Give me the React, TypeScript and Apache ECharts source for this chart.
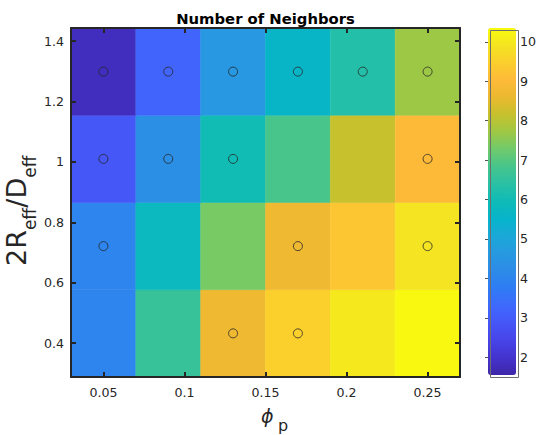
import React, { useEffect, useRef } from "react";
import * as echarts from "echarts";

// ---- data ----
const xCenters = [0.05, 0.09, 0.13, 0.17, 0.21, 0.25];
const yCenters = [0.432, 0.721, 1.01, 1.299];
// values per row, bottom row first
const row043 = [4.0, 6.6, 8.7, 9.5, 10.0, 10.3];
const row072 = [4.0, 5.8, 7.35, 8.7, 9.3, 9.9];
const row101 = [2.9, 4.3, 6.0, 6.85, 8.15, 9.0];
const row130 = [1.8, 3.2, 4.6, 5.6, 6.3, 7.7];
const rows = [row043, row072, row101, row130];
// marked cells: [x, y]
const markers: number[][] = [
  [0.05, 1.299], [0.09, 1.299], [0.13, 1.299], [0.17, 1.299], [0.21, 1.299], [0.25, 1.299],
  [0.05, 1.01], [0.09, 1.01], [0.13, 1.01], [0.25, 1.01],
  [0.05, 0.721], [0.17, 0.721], [0.25, 0.721],
  [0.13, 0.432], [0.17, 0.432],
];
const xTicks = [0.05, 0.1, 0.15, 0.2, 0.25];
const yTicks = [0.4, 0.6, 0.8, 1, 1.2, 1.4];
const cbTicks = [2, 3, 4, 5, 6, 7, 8, 9, 10];
const cbMin = 1.55;
const cbMax = 10.35;

const cellW = 0.04;
const cellH = 0.289;

const parula = [
  "#3e26a8", "#4433ce", "#4744e8", "#4656f7", "#3e69fd", "#2f7cf4", "#2d8be8",
  "#2799e0", "#1ba8d8", "#06b4cb", "#0ebbb7", "#2ac0a5", "#46c58c", "#6fca6c",
  "#9ec845", "#c6c12d", "#eab92f", "#feba3a", "#fbce2d", "#f4e421", "#f9fb0e",
];

const FONT = "DejaVu Sans";
const TXT = "#262626";

export default function App() {
  const ref = useRef<HTMLDivElement>(null);
  useEffect(() => {
    if (!ref.current) return;
    const chart = echarts.init(ref.current, undefined, { renderer: "svg" });
    const cells: number[][] = [];
    rows.forEach((r, j) => r.forEach((v, i) => cells.push([xCenters[i], yCenters[j], v])));

    const xMin = xCenters[0] - cellW / 2;
    const xMax = xCenters[xCenters.length - 1] + cellW / 2;
    const yMin = yCenters[0] - cellH / 2;
    const yMax = yCenters[yCenters.length - 1] + cellH / 2;

    const axisLine = { show: true, onZero: false, lineStyle: { color: TXT, width: 2 } };
    const tickStyle = { color: TXT, width: 2 };
    const labelStyle = { color: TXT, fontSize: 12.6, fontFamily: FONT };

    const option: any = {
      animation: false,
      backgroundColor: "#ffffff",
      grid: [
        { left: 71, top: 28, width: 389, height: 349, show: false },
        { left: 488, top: 28, width: 28, height: 347, show: false },
      ],
      xAxis: [
        {
          type: "value", gridIndex: 0, position: "bottom", min: xMin, max: xMax, z: 10,
          axisLine, splitLine: { show: false },
          axisTick: { inside: true, length: 5, lineStyle: tickStyle, customValues: xTicks },
          axisLabel: { ...labelStyle, margin: 9, customValues: xTicks, formatter: (v: number) => String(v) },
        },
        {
          type: "value", gridIndex: 0, position: "top", min: xMin, max: xMax, z: 10,
          axisLine, splitLine: { show: false },
          axisTick: { inside: true, length: 5, lineStyle: tickStyle, customValues: xTicks },
          axisLabel: { show: false },
        },
        { type: "value", gridIndex: 1, show: false, min: 0, max: 1 },
      ],
      yAxis: [
        {
          type: "value", gridIndex: 0, position: "left", min: yMin, max: yMax, z: 10,
          axisLine, splitLine: { show: false },
          axisTick: { inside: true, length: 5, lineStyle: tickStyle, customValues: yTicks },
          axisLabel: { ...labelStyle, margin: 7, customValues: yTicks, formatter: (v: number) => String(v) },
        },
        {
          type: "value", gridIndex: 0, position: "right", min: yMin, max: yMax, z: 10,
          axisLine, splitLine: { show: false },
          axisTick: { inside: true, length: 5, lineStyle: tickStyle, customValues: yTicks },
          axisLabel: { show: false },
        },
        {
          type: "value", gridIndex: 1, position: "right", min: cbMin, max: cbMax, z: 10,
          axisLine: { show: false }, splitLine: { show: false },
          axisTick: { inside: true, length: 3, lineStyle: { color: "#555", width: 1 }, customValues: cbTicks },
          axisLabel: { ...labelStyle, margin: 6, customValues: cbTicks, formatter: (v: number) => String(v) },
        },
      ],
      visualMap: {
        type: "continuous",
        seriesIndex: 0,
        dimension: 2,
        min: cbMin,
        max: cbMax,
        calculable: false,
        realtime: false,
        left: 488,
        top: 28,
        padding: 0,
        itemWidth: 28,
        itemHeight: 347,
        text: ["", ""],
        showLabel: false,
        inRange: { color: parula },
      },
      graphic: [
        {
          type: "rect", left: 488, top: 28, z: 100, silent: true,
          shape: { width: 28, height: 347 },
          style: { fill: "none", stroke: "#6e6e6e", lineWidth: 1 },
        },
        {
          type: "text", x: 265.5, y: 18.5, z: 100,
          style: { text: "Number of Neighbors", fill: "#000", fontSize: 14.8, fontWeight: "bold", fontFamily: FONT, align: "center", verticalAlign: "middle" },
        },
        {
          type: "group", x: 30, y: 266, rotation: Math.PI / 2, z: 100,
          children: [
            { type: "text", x: 0, y: 0, style: { text: "2R", fill: TXT, fontSize: 27, fontFamily: FONT, align: "left", verticalAlign: "bottom" } },
            { type: "text", x: 35.9, y: 8, style: { text: "eff", fill: TXT, fontSize: 17, fontFamily: FONT, align: "left", verticalAlign: "bottom" } },
            { type: "text", x: 58.3, y: 0, style: { text: "/D", fill: TXT, fontSize: 27, fontFamily: FONT, align: "left", verticalAlign: "bottom" } },
            { type: "text", x: 88.2, y: 8, style: { text: "eff", fill: TXT, fontSize: 17, fontFamily: FONT, align: "left", verticalAlign: "bottom" } },
          ],
        },
        {
          type: "group", x: 261, y: 425, z: 100,
          children: [
            { type: "text", x: 0, y: 0, style: { text: "ϕ", fill: TXT, fontSize: 19, fontStyle: "italic", fontFamily: FONT, align: "left", verticalAlign: "bottom" } },
            { type: "text", x: 17, y: 8, style: { text: "p", fill: TXT, fontSize: 16, fontFamily: FONT, align: "left", verticalAlign: "bottom" } },
          ],
        },
      ],
      series: [
        {
          type: "custom",
          xAxisIndex: 0,
          yAxisIndex: 0,
          data: cells,
          encode: { x: 0, y: 1 },
          renderItem: (params: any, api: any) => {
            const x = api.value(0);
            const y = api.value(1);
            const p1 = api.coord([x - cellW / 2, y + cellH / 2]);
            const p2 = api.coord([x + cellW / 2, y - cellH / 2]);
            return {
              type: "rect",
              shape: { x: p1[0], y: p1[1], width: p2[0] - p1[0], height: p2[1] - p1[1] },
              style: { fill: api.visual("color"), stroke: api.visual("color"), lineWidth: 0.5 },
            };
          },
        },
        {
          type: "scatter",
          xAxisIndex: 0,
          yAxisIndex: 0,
          data: markers,
          symbol: "circle",
          symbolSize: 9,
          z: 5,
          itemStyle: { color: "rgba(0,0,0,0)", borderColor: "#262626", borderWidth: 1 },
        },
      ],
    };
    chart.setOption(option);
    return () => chart.dispose();
  }, []);
  return <div ref={ref} style={{ width: 539, height: 435, position: "absolute", left: 0, top: 0 }} />;
}
